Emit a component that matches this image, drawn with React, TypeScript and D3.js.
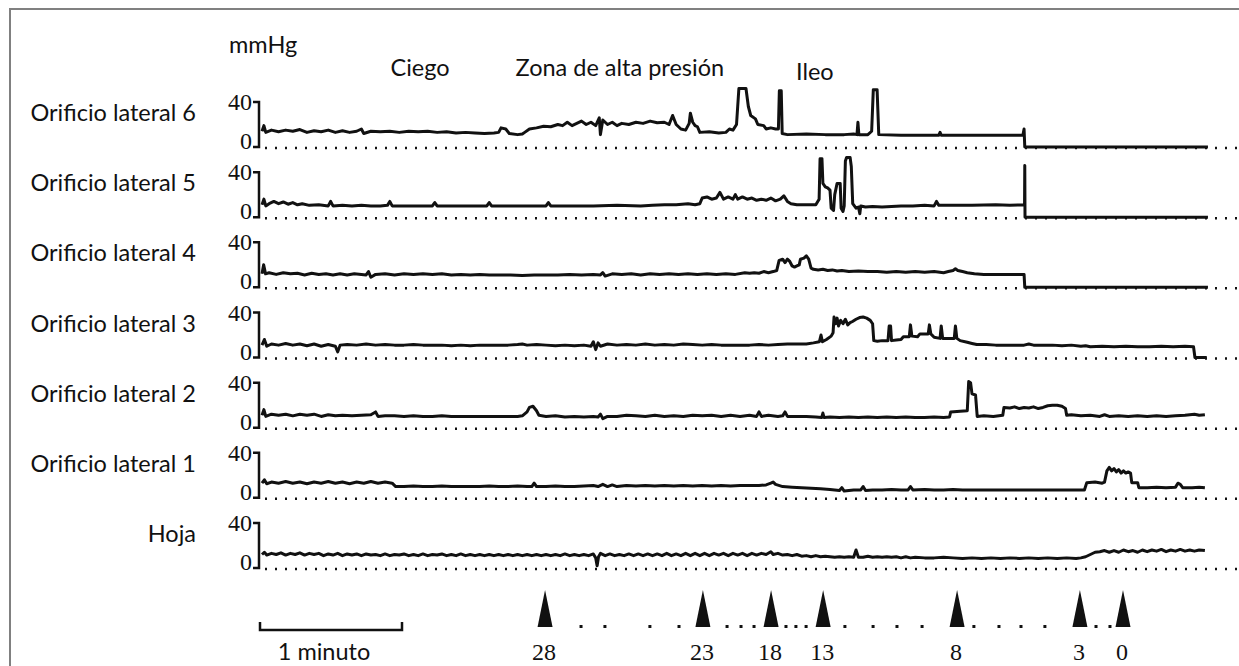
import * as d3 from "d3";

// time in seconds (1 minuto scale bar = 60 s), pressure in mmHg
const panels = [
  "Orificio lateral 6",
  "Orificio lateral 5",
  "Orificio lateral 4",
  "Orificio lateral 3",
  "Orificio lateral 2",
  "Orificio lateral 1",
  "Hoja",
];

const lateral6: [number, number][] = [
  [0, 14], [0.8, 19], [1.6, 13], [4, 15], [7, 13.5], [10, 15], [13, 14], [16, 15.5], [19, 13], [22, 14.5],
  [25, 13.5], [28, 15], [31, 13], [34, 14.5], [37, 13], [40, 14], [42, 16], [43, 12], [46, 14], [50, 13.5],
  [54, 14], [58, 13], [62, 14], [66, 13.5], [70, 14], [74, 13], [78, 13.5], [82, 12.5], [86, 13], [90, 12.5],
  [94, 12], [98, 12.5], [100, 13], [101, 17], [103, 16], [104.5, 12], [108, 11], [110, 11.5], [111, 13], [113, 16],
  [116, 17], [119, 18.5], [122, 18], [125, 20], [127, 19], [129, 22], [131, 19], [133, 21], [135, 23], [137, 20],
  [139, 22], [141, 19], [142.5, 26], [143, 11], [144, 24], [146, 20], [148, 22], [150, 19], [152, 21], [155, 20],
  [158, 22], [161, 21], [164, 23], [167, 21.5], [170, 22], [172, 20], [173.5, 28], [175, 20], [177, 16], [179, 15],
  [180.5, 21], [181, 30], [182, 22], [183, 19], [184, 18], [185, 13], [189, 13.5], [193, 12.5], [196, 13], [197.5, 16],
  [199, 15], [200.5, 20], [201.5, 52], [204.5, 52], [205.5, 36], [206.5, 28], [208.5, 25], [209.5, 20], [212, 19], [213, 16],
  [215, 17], [217, 16], [218.2, 16], [218.6, 50], [219.4, 50], [219.8, 12], [222, 11], [230, 11.5], [238, 11], [246, 11],
  [250, 11.5], [251.4, 11], [251.8, 22], [252.2, 11], [256, 11], [257.6, 14], [258.3, 51], [259.9, 51], [260.6, 11], [270, 10.5],
  [280, 10.5], [286, 10.5], [286.5, 13], [287, 10.5], [300, 10.5], [310, 10.5], [321.5, 10.5], [322, 16], [322.3, 0], [399.7, 0],
];

const lateral5: [number, number][] = [
  [0, 11], [0.8, 16], [1.6, 10], [3, 12], [5, 14], [7, 12], [9, 13.5], [11, 11.5], [13, 13], [15, 11],
  [17, 12], [20, 10.5], [24, 11], [28, 10], [29, 14], [30, 10], [34, 10.5], [38, 10], [42, 10.5], [46, 10],
  [50, 10], [53, 10.5], [54, 14], [55, 10], [60, 10], [66, 10], [72, 10], [73, 13], [74, 10], [82, 10],
  [90, 10], [95, 10], [96, 13], [97, 10], [105, 10], [113, 10], [120, 10], [121, 13], [122, 10], [130, 10],
  [140, 10], [150, 10.5], [160, 10], [165, 10.5], [170, 11], [175, 11], [180, 12], [183, 11], [185, 12], [186, 17],
  [188, 18], [190, 16], [192, 17], [193.5, 22], [195, 16], [197, 18], [199, 16], [200, 20], [201, 16], [203, 18],
  [205, 16], [207, 17], [209, 15], [211, 16], [213, 15], [215, 17], [217, 14.5], [219, 16], [220.5, 19], [222, 14],
  [223.5, 12], [226, 11], [230, 11], [234, 11], [235.4, 16], [235.8, 52], [236.6, 52], [237, 30], [238, 27], [239, 26],
  [240, 24], [240.5, 8], [241.5, 6], [242, 20], [243, 30], [244.3, 30], [244.7, 8], [245.5, 5], [246, 10], [246.5, 50],
  [247, 53], [248.5, 53], [249, 45], [249.6, 12], [251, 8], [252, 9], [252.6, 3], [253, 10], [255, 9], [258, 9.5],
  [262, 9], [266, 9.5], [270, 10], [275, 10], [280, 10.5], [284, 10], [285, 14], [286, 10.5], [292, 10.5], [300, 10.5],
  [310, 11], [316, 10.5], [322.2, 11], [322.3, 46], [322.4, 0], [399.7, 0],
];

const lateral4: [number, number][] = [
  [0, 12], [0.7, 20], [1.5, 12], [3, 13], [6, 11.5], [9, 13], [12, 12], [15, 12.5], [18, 11], [21, 12.5],
  [24, 11.5], [27, 12], [30, 11], [33, 12], [36, 11], [39, 12], [42, 11.5], [44, 11], [45, 14], [46, 9],
  [48, 11.5], [52, 12], [56, 11], [60, 12], [64, 11.5], [68, 12], [72, 11.5], [76, 12], [80, 11], [84, 11.5],
  [88, 11], [92, 11.5], [96, 11], [100, 11], [105, 11], [110, 10.5], [115, 11], [120, 11], [125, 11], [130, 11.5],
  [135, 11], [140, 11.5], [143, 11], [144, 13], [145, 10], [148, 12], [152, 11.5], [156, 12], [160, 11], [164, 12],
  [168, 11.5], [172, 12], [176, 11.5], [180, 12], [184, 11.5], [188, 12], [192, 11.5], [196, 12], [200, 11.5], [204, 13],
  [206, 12.5], [208, 13], [210, 12.5], [212, 14], [214, 13], [216, 14], [217.5, 15], [218.5, 24], [220, 25], [221, 22],
  [222, 25], [223, 23], [224, 19], [225, 18], [226, 19], [227, 20], [227.5, 25], [229, 26], [230, 28], [231, 25],
  [232, 17], [233, 16], [235, 15.5], [237, 16], [239, 15], [241, 15.5], [243, 14.5], [245, 15], [248, 14], [252, 14.5],
  [256, 14], [260, 14], [264, 13.5], [268, 14], [272, 13.5], [276, 14], [280, 13.5], [284, 14], [288, 13], [290, 14],
  [292, 15], [293, 16.5], [294, 15], [296, 14], [298, 13], [301, 12], [305, 11.5], [310, 11.5], [316, 11.5], [322, 11.5],
  [322.3, 0], [399.7, 0],
];

const lateral3: [number, number][] = [
  [0, 11], [1, 16], [2, 10], [4, 12], [7, 11], [10, 12.5], [13, 11], [16, 12], [19, 10.5], [22, 12],
  [25, 10], [28, 11.5], [31, 10], [32, 5], [33, 11], [36, 11.5], [40, 11], [44, 12], [48, 11], [52, 11.5],
  [56, 11], [60, 11], [64, 11.5], [68, 11], [72, 11], [76, 11], [80, 10.5], [84, 11], [88, 10.5], [92, 11],
  [96, 11], [100, 11], [104, 11], [108, 11.5], [110, 12], [112, 11], [116, 11.5], [120, 11], [124, 10.5], [128, 11],
  [132, 10.5], [136, 11], [139, 10], [140, 14], [141, 7], [142, 13], [143, 10], [146, 12], [150, 11], [154, 11.5],
  [158, 11], [162, 12], [166, 11], [170, 11.5], [174, 11], [178, 12], [182, 11.5], [186, 11], [190, 11.5], [194, 11],
  [198, 11], [202, 11], [206, 11], [210, 11.5], [214, 11], [218, 11.5], [222, 12], [226, 12], [230, 12], [233, 13],
  [235.5, 14], [236.2, 20], [236.8, 14], [238.5, 16], [240.5, 19], [241.3, 22], [241.7, 36], [242.3, 30], [243, 35], [243.6, 28],
  [244.5, 33], [245.5, 30], [246.5, 34], [247.5, 29], [248.5, 31], [249.5, 32], [251, 34], [252.5, 35.5], [254, 36], [255.5, 35],
  [257, 33], [258, 30], [258.5, 15], [260, 14.5], [262, 15], [264.5, 15], [265, 28], [265.6, 28], [266, 15], [268, 15.5],
  [270, 16], [271, 18.5], [273.5, 18.5], [274, 29], [274.6, 19], [277, 18.5], [278, 21], [281.5, 21], [282, 29], [282.6, 21],
  [284, 18], [286.5, 17], [287, 28], [287.6, 17], [290, 17], [292.5, 17], [293, 28], [293.6, 17], [295, 15], [298, 13.5],
  [300, 12.5], [302, 11.5], [306, 11.5], [310, 11], [314, 11], [318, 11], [322, 11], [324, 12], [326, 11], [330, 11],
  [334, 11], [338, 10.5], [342, 11], [346, 10], [348, 10.5], [350, 9.5], [355, 10], [360, 9.5], [365, 10], [370, 9.5],
  [375, 9.5], [380, 10], [385, 9.5], [390, 10], [393.6, 9.5], [394.2, 0], [399.2, 0],
];

const lateral2: [number, number][] = [
  [0, 11], [0.8, 16], [1.6, 10], [4, 12], [7, 11], [10, 12], [13, 10.5], [16, 12], [19, 11], [22, 12],
  [25, 10], [28, 11.5], [31, 10.5], [34, 11], [38, 10.5], [42, 11], [46, 11.5], [48, 14], [49, 10], [52, 10.5],
  [56, 10.5], [60, 10], [64, 10.5], [68, 10], [72, 10], [76, 10.5], [80, 10], [84, 10], [88, 10], [92, 10],
  [96, 10], [100, 10], [104, 10], [108, 10], [110, 10.5], [112, 14], [113, 18], [114.5, 19], [116, 15], [117, 11],
  [120, 10], [124, 10.5], [128, 9.5], [132, 10], [136, 9.5], [140, 10], [142, 9.5], [143, 12], [144, 8], [146, 10],
  [150, 10], [154, 11], [158, 10.5], [162, 10], [166, 11], [170, 10], [174, 10.5], [178, 10], [182, 11], [186, 10.5],
  [190, 11], [194, 10], [198, 11], [202, 10], [206, 11], [209, 10], [210, 14], [211, 10], [214, 11], [218, 10],
  [220, 10.5], [221, 14], [222, 10], [226, 10], [230, 10], [234, 9.5], [236.5, 9], [237, 13], [237.5, 9], [240, 9.5],
  [244, 9], [248, 9.5], [252, 9], [256, 9.5], [260, 9], [264, 9.5], [268, 9], [272, 9.5], [276, 9], [280, 9],
  [284, 9.5], [288, 9], [290.5, 9.5], [291, 14], [295, 14.5], [298, 15], [298.6, 41], [299.4, 40], [300, 30], [301.5, 29],
  [302.2, 10], [305, 10.5], [309, 10], [313, 11], [313.5, 18], [316, 17.5], [318, 18.5], [320, 17], [322, 18], [324, 17.5],
  [326, 18.5], [328, 17], [330, 18], [332, 19.5], [334, 20], [336, 20], [338, 19], [339.5, 17], [340, 11], [342, 11.5],
  [346, 10.5], [350, 11], [354, 10], [356, 11.5], [358, 10], [362, 10.5], [366, 10], [370, 10.5], [374, 10], [378, 10.5],
  [382, 10], [386, 10.5], [390, 11], [394, 12], [396, 11], [398.4, 11.5],
];

const lateral1: [number, number][] = [
  [0, 13], [1, 16], [2, 12.5], [4, 14], [7, 13], [10, 14.5], [13, 13], [16, 14], [19, 12.5], [22, 14],
  [25, 13], [28, 14.5], [31, 13], [34, 14], [37, 12.5], [40, 14], [43, 13], [46, 14.5], [49, 13], [52, 14],
  [55, 13], [56.5, 10], [60, 10], [64, 10.5], [68, 10], [72, 10], [76, 10.5], [80, 10], [84, 10], [88, 10],
  [92, 10], [96, 10.5], [100, 10], [104, 10], [108, 10.5], [112, 10], [114, 10], [115, 13], [116, 10], [120, 10],
  [124, 10.5], [128, 10], [132, 10], [136, 10.5], [140, 11], [142, 10], [144, 12], [146, 10], [148, 11.5], [150, 10],
  [154, 11], [158, 10.5], [162, 11], [166, 10.5], [170, 11], [174, 10.5], [178, 11], [182, 10.5], [186, 11], [190, 10.5],
  [194, 11], [198, 10.5], [202, 11], [206, 11], [210, 11], [213, 11.5], [215, 13], [216, 14], [217, 12], [220, 10],
  [224, 9.5], [228, 9], [232, 8.5], [236, 8], [240, 7.5], [242, 7], [244, 6.5], [245, 9], [246, 6], [250, 7],
  [253, 7], [254, 10], [255, 6.5], [258, 7], [262, 7], [266, 7.5], [270, 7], [273, 7], [274, 10], [275, 7],
  [280, 7.5], [284, 7], [288, 7], [292, 7.5], [296, 7], [300, 7], [304, 7], [308, 7], [312, 7], [316, 7],
  [320, 7], [324, 7], [328, 7], [332, 7], [336, 7], [340, 7], [344, 7], [347.5, 7], [348.5, 13.5], [352, 14],
  [355, 13], [356, 14], [357, 24], [358, 27], [359, 24], [360, 26], [361, 23], [362, 25], [363, 22], [364, 24],
  [365, 22], [366, 23], [367, 22], [367.5, 13.5], [370, 13.5], [370.5, 9], [374, 9], [378, 9.5], [382, 9], [386, 9.5],
  [387, 13], [388, 12], [389, 9], [393, 9], [396, 9.5], [398.4, 9],
];

const hoja: [number, number][] = [
  [0, 12], [1, 14], [2, 11.5], [4, 13], [6, 12], [8, 13.5], [10, 11.5], [12, 13], [14, 12], [16, 13.5],
  [18, 11.5], [20, 13], [22, 12], [24, 13], [26, 11], [28, 12.5], [30, 11.5], [32, 13], [34, 11], [36, 12.5],
  [38, 11.5], [40, 12.5], [42, 11], [44, 12.5], [46, 11.5], [48, 12], [50, 11], [52, 12.5], [54, 11], [56, 12],
  [58, 11.5], [60, 12.5], [62, 11], [64, 12], [66, 11], [68, 12.5], [70, 11], [72, 12], [74, 11.5], [76, 12.5],
  [78, 11], [80, 12], [82, 11], [84, 12.5], [86, 11], [88, 12], [90, 11], [92, 12], [94, 11], [96, 12],
  [98, 11], [100, 12], [102, 11], [104, 12], [106, 11], [108, 12], [110, 11], [112, 12], [114, 11], [116, 12],
  [118, 11], [120, 12], [122, 11], [124, 12], [126, 11], [128, 12.5], [130, 11], [132, 12], [134, 11], [136, 12],
  [138, 11], [140, 12.5], [141, 9], [141.6, 2], [142.2, 10], [143, 13], [145, 11], [147, 12.5], [149, 11], [151, 12],
  [153, 11], [155, 12.5], [157, 11], [159, 12.5], [161, 11], [163, 12.5], [165, 11], [167, 12.5], [169, 11], [171, 13],
  [173, 11], [175, 12.5], [177, 11], [179, 13], [181, 11], [183, 13], [185, 11], [187, 13], [189, 11], [191, 13],
  [193, 11.5], [195, 13], [197, 11], [199, 13], [201, 11.5], [203, 13], [205, 11], [207, 13], [209, 11.5], [211, 13],
  [213, 12], [215, 14.5], [216, 12], [218, 13], [220, 11.5], [222, 12], [224, 11], [226, 12], [228, 10.5], [230, 11],
  [232, 10], [234, 11], [236, 10], [238, 10.5], [240, 10], [242, 9.5], [244, 10], [246, 9.5], [248, 10], [250, 9.5],
  [251, 16], [252, 9.5], [254, 9.5], [256, 10.5], [258, 9.5], [260, 10], [262, 9.5], [264, 10], [266, 9.5], [268, 10],
  [270, 9], [272, 10], [274, 9], [276, 9.5], [280, 9], [284, 9], [288, 9.5], [292, 9], [296, 8.5], [300, 9],
  [304, 8.5], [308, 9], [312, 8.5], [316, 9], [320, 8.5], [324, 9], [328, 8.5], [332, 9], [336, 8.5], [340, 9],
  [344, 8.5], [346, 9], [348, 10], [350, 12], [352, 14], [354, 14.5], [356, 15.5], [358, 14], [360, 15.5], [362, 14],
  [364, 16], [366, 14.5], [368, 15.5], [370, 14], [372, 16], [374, 14.5], [376, 16], [378, 15], [380, 16.5], [382, 14.5],
  [384, 16], [386, 15], [388, 16.5], [390, 15], [392, 16], [394, 15], [396, 16], [398.4, 15.5],
];

const traces = [lateral6, lateral5, lateral4, lateral3, lateral2, lateral1, hoja];

const sections = ["Ciego", "Zona de alta presión", "Ileo"];
const sectionTimes = [66.8, 151.2, 233.6];

const markerLabels = ["28", "23", "18", "13", "8", "3", "0"];
const markerTimes = [119.6, 186.3, 215.1, 237.1, 293.7, 345.6, 363.8];
const markerDots = [134.8, 144.9, 163.9, 176.2, 196.5, 202.4, 207.9, 221.4, 225.6, 229.9,
  246.3, 258.2, 268.3, 278.9, 300.8, 311.4, 320.7, 330.8, 352.4, 358.3];

const W = 1239;
const H = 666;
const SANS = "Lato, 'Open Sans', sans-serif";
const SERIF = "'Liberation Serif', 'DejaVu Serif', serif";
const FS = 23.5;

export default function App() {
  const x = d3.scaleLinear().domain([0, 60]).range([262, 262 + 142]);
  const row = d3.scalePoint<string>().domain(panels).range([147, 568]);
  const y = d3.scaleLinear().domain([0, 40]).range([0, -45]);

  return (
    <svg width={W} height={H} style={{ position: "absolute", left: 0, top: 0, background: "#fff" }}>
      <path d={`M10,${H} V9 H${W}`} fill="none" stroke="#808080" strokeWidth={2} />

      <text x={229} y={53} fontFamily={SANS} fontSize={FS} fill="#111">mmHg</text>
      {sections.map((s, i) => (
        <text key={s} x={x(sectionTimes[i])} y={i === 2 ? 80 : 76} textAnchor="middle" fontFamily={SANS} fontSize={FS} fill="#111">{s}</text>
      ))}

      {panels.map((name, i) => {
        const z = row(name)!;
        const line = d3.line<[number, number]>()
          .x((d) => x(d[0]))
          .y((d) => z + y(d[1]));
        const top = z + y(40);
        return (
          <g key={name}>
            <text x={196} y={z - 26} textAnchor="end" fontFamily={SANS} fontSize={FS} fill="#111">{name}</text>
            <text x={252} y={top + 8} textAnchor="end" fontFamily={SERIF} fontSize={24} fill="#111">40</text>
            <text x={252} y={z + 2} textAnchor="end" fontFamily={SERIF} fontSize={24} fill="#111">0</text>
            <path d={`M253,${top} H259 V${z} H253`} fill="none" stroke="#111" strokeWidth={2.5} />
            <line x1={265} x2={W} y1={z + 1} y2={z + 1} stroke="#111" strokeWidth={2.5} strokeDasharray="2 8" />
            <path d={line(traces[i]) || ""} fill="none" stroke="#111" strokeWidth={3} strokeLinejoin="round" />
          </g>
        );
      })}

      {markerDots.map((t, i) => (
        <rect key={i} x={x(t) - 1.5} y={625} width={3} height={3} fill="#111" />
      ))}
      {markerTimes.map((t, i) => (
        <g key={markerLabels[i]}>
          <path d={`M${x(t)},590 L${x(t) + 7.5},627 L${x(t) - 7.5},627 Z`} fill="#111" />
          <text x={x(t) - 1} y={660} textAnchor="middle" fontFamily={SERIF} fontSize={24} fill="#111">{markerLabels[i]}</text>
        </g>
      ))}

      <path d={`M${x(0) - 2},622 V630 H${x(60) - 2} V622`} fill="none" stroke="#111" strokeWidth={2.5} />
      <text x={x(30) - 9} y={660} textAnchor="middle" fontFamily={SANS} fontSize={FS} fill="#111">1 minuto</text>
    </svg>
  );
}
